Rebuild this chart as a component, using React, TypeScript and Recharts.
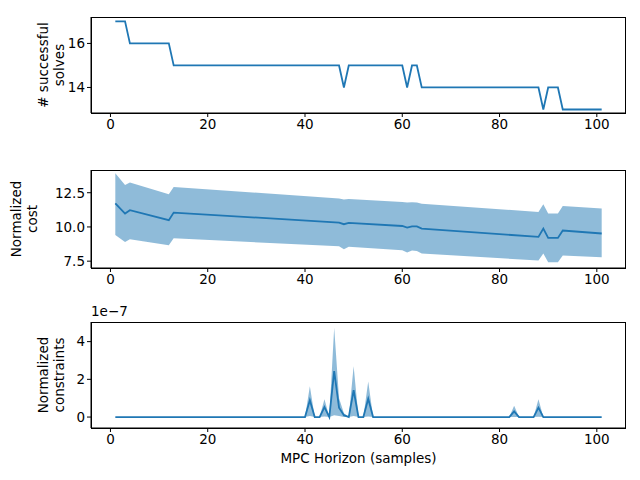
import { ComposedChart, Line, Area, XAxis, YAxis } from 'recharts';

// top panel: successful solves (run end points, step changes)
const solvesX = [1, 3, 4, 12, 13, 47, 48, 49, 60, 61, 62, 63, 64, 88, 89, 90, 92, 93, 101];
const solvesY = [17, 17, 16, 16, 15, 15, 14, 15, 15, 14, 15, 15, 14, 14, 13, 14, 14, 13, 13];

// middle panel: normalized cost mean and band
const costX = [1, 3, 4, 12, 13, 47, 48, 49, 60, 61, 62, 63, 64, 88, 89, 90, 92, 93, 101];
const costMean = [11.73, 10.98, 11.22, 10.49, 11.05, 10.32, 10.2, 10.29, 10.07, 9.95, 10.04, 10.04, 9.88, 9.27, 9.88, 9.2, 9.2, 9.74, 9.52];
const costHi = [13.92, 13.07, 13.24, 12.39, 12.92, 12.07, 12.0, 12.05, 11.83, 11.78, 11.8, 11.78, 11.7, 11.1, 11.66, 10.98, 10.98, 11.53, 11.34];
const costLo = [9.42, 8.9, 9.1, 8.66, 9.17, 8.59, 8.37, 8.55, 8.3, 8.13, 8.28, 8.25, 8.06, 7.55, 8.06, 7.42, 7.42, 7.91, 7.79];

// bottom panel: normalized constraints (x1e-7)
const consX = [1, 40, 41, 42, 43, 44, 45, 46, 47, 48, 49, 50, 51, 52, 53, 54, 82, 83, 84, 87, 88, 89, 101];
const consMean = [0, 0, 0.89, 0, 0, 0.53, 0, 2.44, 0.5, 0.1, 0, 1.42, 0, 0, 0.97, 0, 0, 0.3, 0, 0, 0.5, 0, 0];
const consHi = [0, 0, 1.63, 0, 0, 0.94, 0, 4.74, 1.0, 0.2, 0, 2.7, 0, 0, 1.89, 0, 0, 0.6, 0, 0, 0.94, 0, 0];
const consLo = [0, 0, 0.05, 0, 0, 0.03, 0, 0.1, 0.05, 0, 0, 0.05, 0, 0, 0.03, 0, 0, 0, 0, 0, 0.02, 0, 0];

const xTicks = [0, 20, 40, 60, 80, 100];
const blue = '#1f77b4';
const font = 'DejaVu Sans, sans-serif';
const tickStyle = { fontSize: 13.5, fill: '#000', fontFamily: font };

const solvesData = solvesX.map((x, i) => ({ x, y: solvesY[i] }));
const costData = costX.map((x, i) => ({ x, y: costMean[i], band: [costLo[i], costHi[i]] }));
const consData = consX.map((x, i) => ({ x, y: consMean[i], band: [consLo[i], consHi[i]] }));

function TwoLine({ lines, x, cy }: { lines: string[]; x: number; cy: number }) {
  return (
    <div style={{ position: 'absolute', left: x - 60, top: cy - 20, width: 120, height: 40, transform: 'rotate(-90deg)', textAlign: 'center', fontFamily: font, fontSize: 13.5, lineHeight: '16px' }}>
      {lines.map((l) => <div key={l}>{l}</div>)}
    </div>
  );
}

function Box({ top, bottom }: { top: number; bottom: number }) {
  return <div style={{ position: 'absolute', left: 91, top, width: 535, height: bottom - top, border: '1px solid #000', boxSizing: 'border-box', pointerEvents: 'none' }} />;
}

export default function App() {
  return (
    <div style={{ position: 'fixed', left: 0, top: 0, width: 640, height: 480, background: '#fff' }}>
      <div style={{ position: 'absolute', left: 0, top: 0 }}>
        <ComposedChart width={640} height={140} data={solvesData} margin={{ top: 17, right: 14, left: 0, bottom: 0 }}>
          <XAxis dataKey="x" type="number" domain={[-4, 106]} ticks={xTicks} tick={tickStyle} stroke="#000" height={27} tickSize={4} />
          <YAxis domain={[12.84, 17.2]} ticks={[14, 16]} tick={tickStyle} stroke="#000" width={91} tickSize={4} />
          <Line dataKey="y" stroke={blue} strokeWidth={1.8} dot={false} isAnimationActive={false} />
        </ComposedChart>
      </div>
      <div style={{ position: 'absolute', left: 0, top: 150 }}>
        <ComposedChart width={640} height={145} data={costData} margin={{ top: 20, right: 14, left: 0, bottom: 0 }}>
          <XAxis dataKey="x" type="number" domain={[-4, 106]} ticks={xTicks} tick={tickStyle} stroke="#000" height={27} tickSize={4} />
          <YAxis domain={[7.0, 14.16]} ticks={[7.5, 10, 12.5]} tickFormatter={(v: number) => v.toFixed(1)} tick={tickStyle} stroke="#000" width={91} tickSize={4} />
          <Area dataKey="band" stroke="none" fill={blue} fillOpacity={0.5} isAnimationActive={false} />
          <Line dataKey="y" stroke={blue} strokeWidth={1.8} dot={false} isAnimationActive={false} />
        </ComposedChart>
      </div>
      <div style={{ position: 'absolute', left: 0, top: 300 }}>
        <ComposedChart width={640} height={180} data={consData} margin={{ top: 22, right: 14, left: 0, bottom: 0 }}>
          <XAxis dataKey="x" type="number" domain={[-4, 106]} ticks={xTicks} tick={tickStyle} stroke="#000" height={52} tickSize={4}
            label={{ value: 'MPC Horizon (samples)', position: 'insideBottom', offset: 17, style: { fontSize: 13.5, fill: '#000', fontFamily: font } }} />
          <YAxis domain={[-0.58, 5.04]} ticks={[0, 2, 4]} tick={tickStyle} stroke="#000" width={91} tickSize={4} />
          <Area dataKey="band" stroke="none" fill={blue} fillOpacity={0.5} isAnimationActive={false} />
          <Line dataKey="y" stroke={blue} strokeWidth={1.8} dot={false} isAnimationActive={false} />
        </ComposedChart>
      </div>
      <Box top={17} bottom={114} />
      <Box top={170} bottom={269} />
      <Box top={322} bottom={429} />
      <div style={{ position: 'absolute', left: 91, top: 303, fontFamily: font, fontSize: 13.5 }}>1e−7</div>
      <TwoLine lines={['# successful', 'solves']} x={55} cy={65} />
      <TwoLine lines={['Normalized', 'cost']} x={28} cy={219} />
      <TwoLine lines={['Normalized', 'constraints']} x={55} cy={375} />
    </div>
  );
}
